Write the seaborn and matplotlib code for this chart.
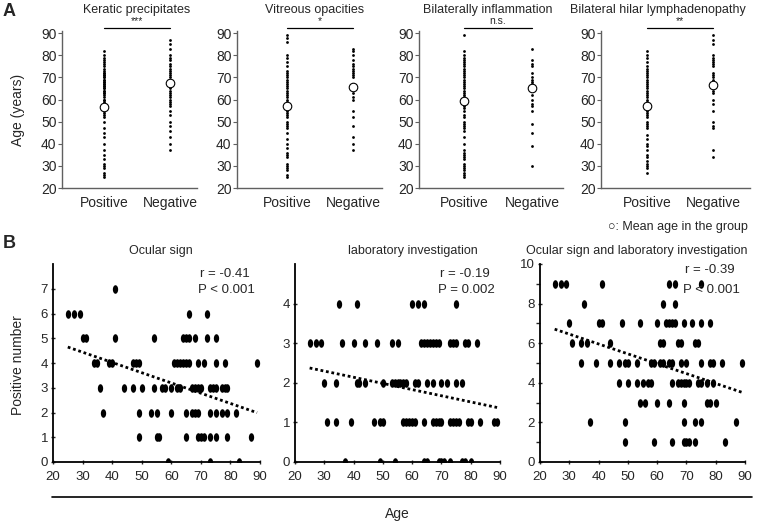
import numpy as np
import pandas as pd
import seaborn as sns
import matplotlib.pyplot as plt
from matplotlib.path import Path
from matplotlib.lines import Line2D

sns.set_style("white")
plt.rcParams['font.family'] = ['Liberation Sans', 'DejaVu Sans']

# ---------------- Panel A data (ages of each group) ----------------
groups = ["Positive", "Negative"]
a_titles = ["Keratic precipitates", "Vitreous opacities",
            "Bilaterally inflammation", "Bilateral hilar lymphadenopathy"]
a_signif = ["***", "*", "n.s.", "**"]

kp_pos = [25, 26, 27, 29, 30, 31, 33, 35, 37, 40, 43, 45, 47, 50, 52, 53, 54, 55, 56, 57, 58, 59,
          60, 60, 61, 62, 63, 63, 64, 64, 65, 65, 66, 66, 67, 67, 68, 68, 69, 69, 70, 70, 71, 71,
          72, 72, 73, 74, 75, 76, 77, 78, 79, 80, 82]
kp_neg = [37, 40, 43, 46, 48, 50, 53, 55, 57, 58, 59, 60, 61, 62, 63, 64, 65, 66, 67, 68, 69, 70,
          71, 72, 73, 74, 75, 76, 78, 79, 80, 83, 85, 87]
vo_pos = [25, 26, 28, 29, 30, 31, 34, 35, 36, 38, 40, 42, 45, 47, 48, 49, 50, 52, 53, 54, 55, 56,
          57, 58, 59, 60, 61, 62, 63, 64, 65, 66, 67, 68, 69, 70, 71, 72, 73, 75, 77, 79, 80, 86,
          88, 89]
vo_neg = [37, 40, 43, 48, 52, 55, 60, 61, 63, 65, 67, 70, 71, 72, 73, 74, 75, 76, 78, 80, 82, 83]
bi_pos = [25, 26, 27, 28, 29, 30, 31, 33, 34, 35, 36, 37, 40, 43, 46, 47, 48, 49, 50, 52, 53, 55,
          56, 57, 58, 59, 60, 61, 62, 63, 64, 65, 66, 67, 68, 69, 70, 71, 72, 73, 74, 75, 76, 77,
          78, 79, 80, 82, 89]
bi_neg = [30, 39, 45, 49, 55, 57, 58, 60, 62, 65, 66, 67, 68, 69, 70, 72, 75, 76, 78, 83]
bh_pos = [27, 29, 30, 31, 32, 34, 35, 37, 39, 40, 42, 44, 47, 48, 49, 50, 52, 53, 54, 55, 56, 57,
          58, 59, 60, 61, 62, 63, 64, 65, 66, 67, 68, 69, 70, 71, 72, 73, 74, 75, 77, 79, 80, 82]
bh_neg = [34, 37, 47, 48, 50, 55, 58, 60, 63, 64, 65, 66, 67, 68, 69, 70, 71, 72, 75, 76, 77, 78,
          79, 80, 85, 87, 89]
a_data = [(kp_pos, kp_neg), (vo_pos, vo_neg), (bi_pos, bi_neg), (bh_pos, bh_neg)]
a_means = [(56.5, 67.3), (57.0, 65.5), (59.3, 65.0), (57.0, 66.8)]

# ---------------- Panel B data (age, positive number) ----------------
b_titles = ["Ocular sign", "laboratory investigation",
            "Ocular sign and laboratory investigation"]
b_r = ["r = -0.41", "r = -0.19", "r = -0.39"]
b_p = ["P < 0.001", "P = 0.002", "P < 0.001"]

ocular_age = [41,
              25, 27, 29, 66, 72,
              30, 31, 41, 54, 64, 65, 66, 68, 72, 75,
              34, 35, 39, 40, 47, 48, 49, 61, 62, 63, 64, 65, 66, 69, 71, 75, 78, 89,
              36, 44, 47, 50, 54, 57, 58, 60, 62, 63, 67, 68, 69, 70, 73, 74, 75, 77, 78, 79,
              37, 49, 53, 55, 60, 65, 67, 68, 69, 73, 75, 77, 79, 82,
              49, 55, 56, 65, 69, 70, 71, 73, 75, 79, 87,
              59, 73, 83]
ocular_num = ([7] + [6] * 5 + [5] * 10 + [4] * 18 + [3] * 20 + [2] * 14 + [1] * 11 + [0] * 3)

lab_age = [35, 41, 60, 62, 64, 75,
           25, 27, 29, 36, 40, 44, 48, 53, 55, 63, 64, 65, 66, 67, 68, 69, 73, 74, 75, 78, 79, 82,
           30, 34, 41, 42, 44, 50, 53, 54, 55, 56, 57, 58, 61, 62, 65, 67, 70, 72, 75, 77,
           31, 34, 39, 47, 49, 50, 57, 58, 59, 60, 61, 64, 67, 68, 69, 70, 73, 74, 75, 76, 79, 80,
           83, 88, 89,
           37, 49, 54, 64, 65, 69, 70, 71, 73, 77, 78, 80]
lab_num = ([4] * 6 + [3] * 22 + [2] * 20 + [1] * 25 + [0] * 12)

both_age = [25, 27, 29, 41, 64, 66, 75,
            35, 62, 66,
            30, 40, 41, 48, 54, 60, 63, 64, 65, 66, 69, 72, 75, 78,
            31, 34, 36, 44, 61, 62, 67, 68, 73, 74,
            34, 39, 44, 47, 49, 50, 53, 58, 59, 61, 62, 64, 65, 68, 70, 75, 78, 79, 82, 89,
            47, 50, 53, 55, 57, 58, 65, 67, 68, 69, 70, 71, 74, 75, 77, 79,
            54, 56, 60, 64, 69, 77, 78, 80,
            37, 49, 69, 73, 75, 87,
            49, 59, 65, 69, 70, 71, 73, 83]
both_num = ([9] * 7 + [8] * 3 + [7] * 14 + [6] * 10 + [5] * 20 + [4] * 16 + [3] * 8 + [2] * 6
            + [1] * 8)
b_data = [(ocular_age, ocular_num), (lab_age, lab_num), (both_age, both_num)]
b_ylims = [(0, 8), (0, 5), (0, 10)]
b_yticks = [list(range(0, 8)), list(range(0, 5)), list(range(0, 11, 2))]

W, H = 760, 521
fig = plt.figure(figsize=(W / 100, H / 100), dpi=100)


def fx(px):
    return px / W


def fy(py):
    return 1 - py / H


# ---------------- Panel A ----------------
# (left px, right px, Positive px, Negative px)
a_boxes = [(62, 197, 104, 170), (237, 382, 287, 353), (419, 563, 464, 532), (601, 750, 647, 713)]
a_title_x = [137, 315, 488, 658]
gray = "#606060"
for i, ((l, r, p0, p1), (pos, neg)) in enumerate(zip(a_boxes, a_data)):
    ax = fig.add_axes([fx(l), fy(188), fx(r - l), (188 - 31) / H])
    df = pd.DataFrame({"group": ["Positive"] * len(pos) + ["Negative"] * len(neg),
                       "age": pos + neg})
    sns.stripplot(data=df, x="group", y="age", order=groups, jitter=False, color="black",
                  size=2.0, linewidth=0, ax=ax)
    sns.scatterplot(x=[0, 1], y=list(a_means[i]), s=38, facecolor="white", edgecolor="black",
                    linewidth=0.8, zorder=5, ax=ax, legend=False)
    unit = p1 - p0
    ax.set_xlim((l - p0) / unit, (r - p0) / unit)
    ax.set_ylim(20, 91)
    ax.set_yticks(range(20, 91, 10))
    ax.set_xlabel("")
    ax.set_ylabel("")
    for s in ["top", "right"]:
        ax.spines[s].set_visible(False)
    for s in ["left", "bottom"]:
        ax.spines[s].set_color(gray)
        ax.spines[s].set_linewidth(1.0)
    ax.tick_params(axis="y", length=3, color=gray, labelsize=10, pad=1, left=True)
    ax.tick_params(axis="x", length=0, labelsize=10, pad=6)
    # significance bar and title
    ax.plot([0, 1], [92.5, 92.5], color="black", lw=0.9, clip_on=False)
    ax.text(0.5, 93.2, a_signif[i], ha="center", va="bottom", fontsize=7.5)
    fig.text(fx(a_title_x[i]), fy(10), a_titles[i], ha="center", va="center", fontsize=9)

fig.text(fx(18), fy(110), "Age (years)", rotation=90, ha="center", va="center", fontsize=10)
fig.text(fx(3), fy(11), "A", fontsize=13, fontweight="bold", ha="left", va="center")
fig.text(fx(748), fy(227), "\u25cb: Mean age in the group", fontsize=9, ha="right",
         va="center")

# ---------------- Panel B ----------------
t = np.linspace(0, 2 * np.pi, 40)
ellipse = Path(np.column_stack([0.62 * np.cos(t), np.sin(t)]), closed=True)

b_boxes = [(53, 260), (295, 500), (540, 745)]
b_title_x = [161, 413, 637]
for i, ((l, r), (xs, ys)) in enumerate(zip(b_boxes, b_data)):
    ax = fig.add_axes([fx(l), fy(462), fx(r - l), (462 - 264) / H])
    sns.scatterplot(x=xs, y=ys, marker=ellipse, s=38, color="black", linewidth=0, ax=ax,
                    zorder=3, legend=False)
    sns.regplot(x=xs, y=ys, scatter=False, ci=None, ax=ax,
                line_kws={"color": "black", "linestyle": (0, (1, 1)), "linewidth": 2.0})
    ax.set_xlim(20, 90)
    ax.set_ylim(*b_ylims[i])
    ax.set_xticks(range(20, 91, 10))
    ax.set_yticks(b_yticks[i])
    if i == 2:
        ax.set_yticks(range(1, 10, 2), minor=True)
        ax.tick_params(axis="y", which="minor", length=3, left=True, width=1)
    ax.set_xlabel("")
    ax.set_ylabel("")
    for s in ["top", "right"]:
        ax.spines[s].set_visible(False)
    for s in ["left", "bottom"]:
        ax.spines[s].set_color("black")
        ax.spines[s].set_linewidth(1.3)
    ax.tick_params(axis="both", length=3, width=1, labelsize=9.5, pad=2,
                   left=True, bottom=True, direction="inout")
    ax.tick_params(axis="x", pad=5)
    fig.text(fx(b_title_x[i]), fy(251), b_titles[i], ha="center", va="center", fontsize=9)
    fig.text(fx(r - 10), fy(274 if i < 2 else 270), b_r[i], ha="right", va="center",
             fontsize=9.5)
    fig.text(fx(r - 5), fy(290), b_p[i], ha="right", va="center", fontsize=9.5)

fig.text(fx(18), fy(365), "Positive number", rotation=90, ha="center", va="center",
         fontsize=10)
fig.text(fx(3), fy(243), "B", fontsize=13, fontweight="bold", ha="left", va="center")
fig.add_artist(Line2D([fx(52), fx(752)], [fy(497), fy(497)], color="black", lw=1.2))
fig.text(fx(397), fy(514), "Age", ha="center", va="center", fontsize=10)

fig.savefig("out.png", dpi=100)
